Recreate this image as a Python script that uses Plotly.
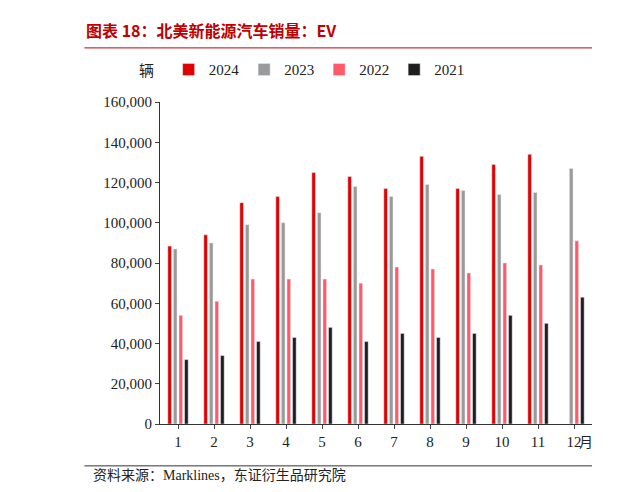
import plotly.graph_objects as go

months = [str(m) for m in range(1, 13)]
sales_2024 = [88400, 94000, 110000, 113000, 125000, 123000, 117000, 133000, 117000, 129000, 134000, None]
sales_2023 = [87000, 90000, 99000, 100000, 105000, 118000, 113000, 119000, 116000, 114000, 115000, 127000]
sales_2022 = [54000, 61000, 72000, 72000, 72000, 70000, 78000, 77000, 75000, 80000, 79000, 91000]
sales_2021 = [32000, 34000, 41000, 43000, 48000, 41000, 45000, 43000, 45000, 54000, 50000, 63000]

series = [
    ("2024", sales_2024, "#E00000"),
    ("2023", sales_2023, "#9A9A9A"),
    ("2022", sales_2022, "#FF5A68"),
    ("2021", sales_2021, "#1E1E1E"),
]

font_main = "Liberation Serif, Noto Sans CJK SC"

fig = go.Figure()
for name, vals, color in series:
    fig.add_trace(go.Bar(x=months, y=vals, name=name, marker_color=color))

fig.update_layout(
    width=624, height=492,
    barmode="group", bargap=0.38, bargroupgap=0.35,
    plot_bgcolor="white", paper_bgcolor="white",
    margin=dict(l=152, r=40, t=94, b=76),
    font=dict(family=font_main, size=15, color="#222"),
    legend=dict(orientation="h", x=0.02, y=1.10, xanchor="left", yanchor="middle",
                font=dict(size=15), itemwidth=30, traceorder="normal"),
    showlegend=True,
)
fig.update_yaxes(range=[0, 160000], dtick=20000, tickformat=",", showgrid=False,
                 showline=True, linecolor="#333", ticks="outside", ticklen=4)
fig.update_xaxes(showline=True, linecolor="#333", ticks="outside", ticklen=4)

fig.add_annotation(text="<b>图表 18：北美新能源汽车销量：EV</b>", xref="paper", yref="paper",
                   x=-0.175, y=1.224, xanchor="left", yanchor="middle", showarrow=False,
                   font=dict(family="Noto Sans CJK SC", size=16, color="#C00000"))
fig.add_shape(type="line", xref="paper", yref="paper", x0=-0.175, x1=1.0, y0=1.168, y1=1.168,
              line=dict(color="#C00000", width=1))
fig.add_annotation(text="辆", xref="paper", yref="paper", x=-0.01, y=1.10, xanchor="right",
                   yanchor="middle", showarrow=False, font=dict(family="Noto Sans CJK SC", size=15))
fig.add_annotation(text="月", xref="paper", yref="paper", x=0.965, y=-0.053, xanchor="left",
                   yanchor="middle", showarrow=False, font=dict(family="Noto Sans CJK SC", size=14))
fig.add_shape(type="line", xref="paper", yref="paper", x0=-0.175, x1=1.0, y0=-0.13, y1=-0.13,
              line=dict(color="#333", width=1))
fig.add_annotation(text="资料来源：Marklines，东证衍生品研究院", xref="paper", yref="paper",
                   x=-0.16, y=-0.161, xanchor="left", yanchor="middle", showarrow=False,
                   font=dict(family=font_main, size=14))

fig.write_html("out.html")
